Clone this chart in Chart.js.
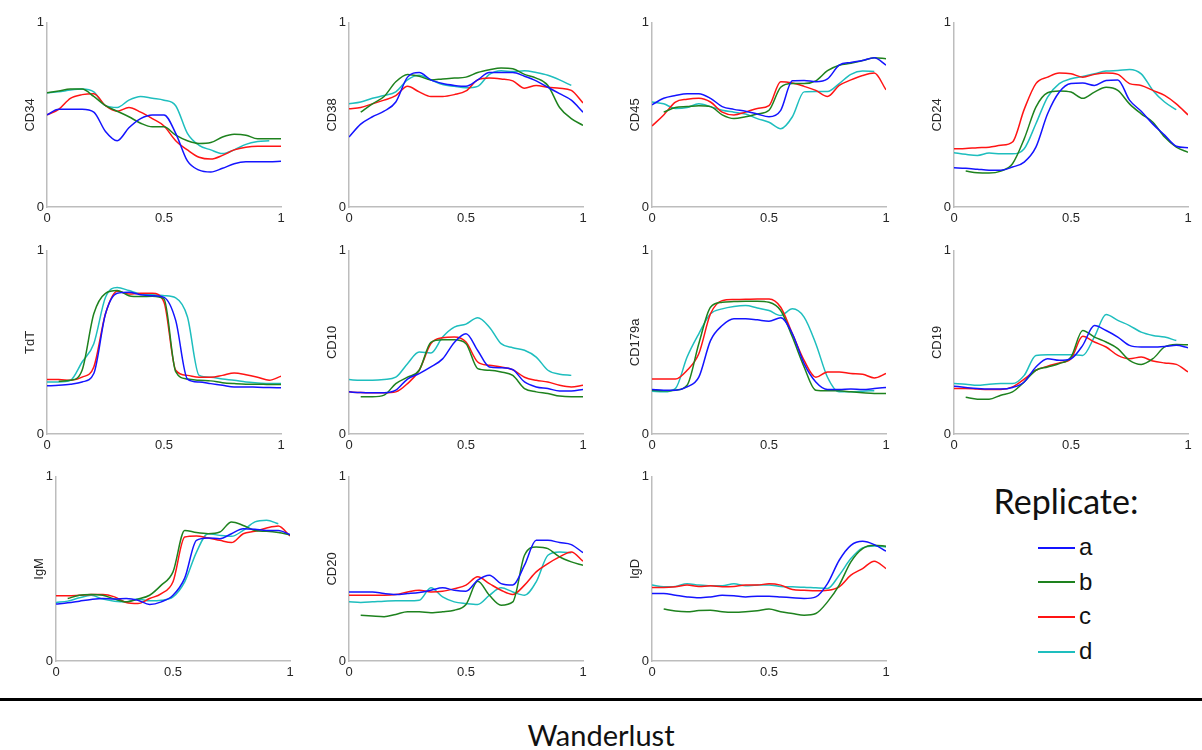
<!DOCTYPE html>
<html>
<head>
<meta charset="utf-8">
<title>Wanderlust</title>
<script src="https://cdn.jsdelivr.net/npm/chart.js@4.4.1/dist/chart.umd.min.js"></script>
<style>
    body { margin: 0; background: #fff; }
    #page { position: relative; width: 1202px; height: 750px; overflow: hidden; font-family: "Liberation Sans", Arial, sans-serif; }
    #page canvas { position: absolute; }
    .legend-title { position: absolute; left: 966px; top: 481px; width: 200px; text-align: center; font-family: Lato, "Open Sans", sans-serif; font-size: 34px; line-height: 40px; color: #111; }
    .legend-item { position: absolute; left: 1038px; height: 28px; line-height: 28px; font-size: 24px; color: #111; }
    .legend-item span { display: inline-block; width: 37px; height: 2px; vertical-align: middle; margin-right: 4px; position: relative; top: -1px; }
    #rule { position: absolute; left: 0; top: 698px; width: 1202px; height: 3px; background: #000; }
    #title { position: absolute; left: 0; top: 717px; width: 1202px; text-align: center; font-family: Lato, "Open Sans", sans-serif; font-size: 29px; line-height: 36px; color: #111; }
</style>
</head>
<body>
<div id="page">
    <div id="rule"></div>
    <div id="title">Wanderlust</div>
</div>

<script>
// pseudotime grid shared by all panels
var xGrid = [0, 0.05, 0.1, 0.15, 0.2, 0.25, 0.3, 0.35, 0.4, 0.45, 0.5, 0.55, 0.6, 0.65, 0.7, 0.75, 0.8, 0.85, 0.9, 0.95, 1];
var xTicks = [0, 0.5, 1];
var yTicks = [0, 1];

var markers = ['CD34', 'CD38', 'CD45', 'CD24', 'TdT', 'CD10', 'CD179a', 'CD19', 'IgM', 'CD20', 'IgD'];
var replicates = ['a', 'b', 'c', 'd'];
var replicateColors = ['#1414ff', '#1e821e', '#ff1414', '#1ebebe'];

// CD34
var cd34A = [0.50, 0.53, 0.53, 0.53, 0.515, 0.41, 0.36, 0.43, 0.48, 0.50, 0.50, 0.40, 0.25, 0.20, 0.19, 0.21, 0.235, 0.245, 0.245, 0.245, 0.248];
var cd34B = [0.62, 0.63, 0.64, 0.64, 0.60, 0.55, 0.52, 0.49, 0.455, 0.435, 0.435, 0.39, 0.36, 0.345, 0.35, 0.38, 0.395, 0.39, 0.37, 0.37, 0.37];
var cd34C = [0.50, 0.53, 0.59, 0.61, 0.615, 0.55, 0.52, 0.54, 0.515, 0.48, 0.44, 0.36, 0.31, 0.27, 0.26, 0.28, 0.31, 0.325, 0.33, 0.33, 0.33];
var cd34D = [0.62, 0.625, 0.635, 0.64, 0.625, 0.55, 0.54, 0.58, 0.60, 0.59, 0.58, 0.55, 0.40, 0.335, 0.31, 0.29, 0.31, 0.34, 0.355, 0.36, null];

// CD38
var cd38A = [0.38, 0.45, 0.49, 0.52, 0.57, 0.705, 0.73, 0.69, 0.67, 0.66, 0.655, 0.69, 0.73, 0.73, 0.73, 0.71, 0.685, 0.65, 0.615, 0.58, 0.515];
var cd38B = [null, 0.515, 0.56, 0.60, 0.68, 0.72, 0.71, 0.69, 0.695, 0.70, 0.705, 0.73, 0.745, 0.755, 0.75, 0.72, 0.70, 0.66, 0.54, 0.48, 0.443];
var cd38C = [0.533, 0.54, 0.56, 0.58, 0.605, 0.655, 0.625, 0.60, 0.60, 0.61, 0.63, 0.69, 0.70, 0.695, 0.685, 0.645, 0.66, 0.65, 0.645, 0.633, 0.565];
var cd38D = [0.56, 0.57, 0.59, 0.605, 0.625, 0.69, 0.715, 0.69, 0.665, 0.655, 0.647, 0.655, 0.72, 0.74, 0.735, 0.74, 0.73, 0.715, 0.69, 0.66, null];

// CD45
var cd45A = [0.555, 0.59, 0.605, 0.615, 0.615, 0.59, 0.545, 0.53, 0.52, 0.505, 0.49, 0.525, 0.685, 0.687, 0.68, 0.695, 0.77, 0.785, 0.795, 0.81, 0.77];
var cd45B = [null, 0.515, 0.54, 0.545, 0.55, 0.545, 0.50, 0.48, 0.49, 0.505, 0.525, 0.65, 0.67, 0.67, 0.685, 0.74, 0.77, 0.78, 0.795, 0.81, 0.805];
var cd45C = [0.44, 0.50, 0.57, 0.585, 0.59, 0.57, 0.515, 0.50, 0.515, 0.535, 0.55, 0.68, 0.673, 0.655, 0.633, 0.60, 0.66, 0.69, 0.714, 0.727, 0.636];
var cd45D = [0.57, 0.56, 0.535, 0.54, 0.56, 0.545, 0.525, 0.515, 0.505, 0.48, 0.46, 0.425, 0.49, 0.625, 0.627, 0.627, 0.67, 0.72, 0.738, 0.736, null];

// CD24
var cd24A = [0.213, 0.21, 0.205, 0.20, 0.20, 0.217, 0.244, 0.325, 0.506, 0.624, 0.67, 0.673, 0.66, 0.687, 0.69, 0.58, 0.52, 0.45, 0.39, 0.33, 0.322];
var cd24B = [null, 0.195, 0.186, 0.184, 0.195, 0.235, 0.37, 0.542, 0.62, 0.63, 0.624, 0.59, 0.624, 0.65, 0.633, 0.56, 0.506, 0.46, 0.38, 0.325, 0.297];
var cd24C = [0.316, 0.318, 0.322, 0.325, 0.335, 0.353, 0.53, 0.67, 0.705, 0.727, 0.723, 0.705, 0.72, 0.727, 0.72, 0.67, 0.66, 0.633, 0.606, 0.56, 0.50];
var cd24D = [0.295, 0.286, 0.28, 0.293, 0.289, 0.289, 0.316, 0.452, 0.597, 0.67, 0.696, 0.709, 0.723, 0.738, 0.741, 0.747, 0.723, 0.633, 0.57, 0.528, null];

// TdT
var tdtA = [0.263, 0.266, 0.272, 0.284, 0.33, 0.656, 0.768, 0.774, 0.76, 0.755, 0.746, 0.62, 0.30, 0.284, 0.275, 0.266, 0.257, 0.257, 0.255, 0.254, 0.252];
var tdtB = [null, 0.288, 0.293, 0.348, 0.656, 0.768, 0.783, 0.755, 0.75, 0.752, 0.737, 0.34, 0.30, 0.293, 0.29, 0.28, 0.275, 0.272, 0.272, 0.27, 0.27];
var tdtC = [0.297, 0.297, 0.293, 0.31, 0.366, 0.656, 0.779, 0.764, 0.768, 0.768, 0.72, 0.348, 0.32, 0.31, 0.31, 0.32, 0.333, 0.324, 0.31, 0.293, 0.315];
var tdtD = [0.284, 0.284, 0.293, 0.393, 0.493, 0.746, 0.80, 0.783, 0.764, 0.76, 0.755, 0.743, 0.64, 0.32, 0.31, 0.30, 0.293, 0.284, 0.279, 0.275, 0.275];

// CD10
var cd10A = [0.23, 0.226, 0.225, 0.225, 0.239, 0.30, 0.33, 0.366, 0.41, 0.50, 0.547, 0.456, 0.366, 0.362, 0.351, 0.284, 0.257, 0.248, 0.235, 0.235, 0.243];
var cd10B = [null, 0.203, 0.203, 0.212, 0.275, 0.31, 0.348, 0.50, 0.514, 0.514, 0.493, 0.357, 0.348, 0.339, 0.32, 0.248, 0.23, 0.221, 0.207, 0.203, 0.203];
var cd10C = [0.23, 0.226, 0.225, 0.225, 0.23, 0.275, 0.348, 0.493, 0.525, 0.529, 0.502, 0.393, 0.375, 0.366, 0.351, 0.31, 0.293, 0.284, 0.266, 0.257, 0.266];
var cd10D = [0.297, 0.293, 0.293, 0.297, 0.31, 0.384, 0.447, 0.442, 0.529, 0.583, 0.60, 0.634, 0.583, 0.493, 0.471, 0.457, 0.42, 0.348, 0.326, 0.32, null];

// CD179a
var cd179aA = [0.243, 0.239, 0.239, 0.257, 0.31, 0.51, 0.592, 0.629, 0.629, 0.623, 0.616, 0.634, 0.547, 0.384, 0.284, 0.243, 0.243, 0.245, 0.243, 0.248, 0.254];
var cd179aB = [0.239, 0.236, 0.239, 0.266, 0.493, 0.692, 0.719, 0.723, 0.725, 0.725, 0.719, 0.674, 0.529, 0.366, 0.239, 0.236, 0.236, 0.23, 0.225, 0.221, 0.221];
var cd179aC = [0.30, 0.30, 0.30, 0.348, 0.438, 0.656, 0.728, 0.734, 0.735, 0.737, 0.737, 0.692, 0.547, 0.402, 0.31, 0.339, 0.339, 0.33, 0.326, 0.306, 0.33];
var cd179aD = [0.234, 0.23, 0.248, 0.42, 0.547, 0.656, 0.683, 0.696, 0.701, 0.688, 0.674, 0.647, 0.683, 0.638, 0.493, 0.31, 0.23, 0.23, 0.234, 0.236, null];

// CD19
var cd19A = [0.261, 0.254, 0.248, 0.245, 0.245, 0.254, 0.284, 0.366, 0.411, 0.402, 0.411, 0.484, 0.592, 0.565, 0.529, 0.484, 0.475, 0.475, 0.478, 0.484, 0.471];
var cd19B = [null, 0.20, 0.19, 0.19, 0.212, 0.23, 0.284, 0.348, 0.366, 0.384, 0.42, 0.565, 0.529, 0.502, 0.466, 0.402, 0.38, 0.411, 0.475, 0.489, 0.487];
var cd19C = [0.248, 0.248, 0.245, 0.243, 0.243, 0.257, 0.30, 0.348, 0.37, 0.388, 0.411, 0.533, 0.502, 0.475, 0.429, 0.411, 0.42, 0.398, 0.388, 0.38, 0.339];
var cd19D = [0.275, 0.272, 0.266, 0.272, 0.275, 0.275, 0.32, 0.429, 0.433, 0.433, 0.433, 0.429, 0.53, 0.652, 0.62, 0.592, 0.556, 0.538, 0.529, 0.51, null];

// IgM
var igmA = [0.309, 0.316, 0.325, 0.334, 0.339, 0.336, 0.339, 0.33, 0.307, 0.321, 0.357, 0.45, 0.655, 0.668, 0.664, 0.691, 0.718, 0.715, 0.709, 0.709, 0.686];
var igmB = [null, 0.339, 0.357, 0.361, 0.357, 0.336, 0.321, 0.336, 0.357, 0.412, 0.484, 0.709, 0.697, 0.691, 0.70, 0.755, 0.736, 0.709, 0.704, 0.697, 0.686];
var igmC = [0.354, 0.354, 0.357, 0.361, 0.361, 0.348, 0.318, 0.312, 0.339, 0.366, 0.43, 0.673, 0.679, 0.668, 0.655, 0.643, 0.691, 0.704, 0.722, 0.733, 0.679];
var igmD = [0.318, 0.325, 0.343, 0.357, 0.336, 0.325, 0.321, 0.336, 0.327, 0.33, 0.348, 0.43, 0.59, 0.691, 0.682, 0.677, 0.709, 0.755, 0.764, 0.745, null];

// CD20
var cd20A = [0.375, 0.375, 0.375, 0.366, 0.361, 0.366, 0.372, 0.384, 0.397, 0.384, 0.379, 0.439, 0.466, 0.42, 0.412, 0.52, 0.655, 0.655, 0.643, 0.632, 0.588];
var cd20B = [null, 0.249, 0.244, 0.24, 0.253, 0.267, 0.267, 0.262, 0.267, 0.276, 0.307, 0.433, 0.357, 0.303, 0.321, 0.574, 0.619, 0.61, 0.565, 0.538, 0.52];
var cd20C = [0.357, 0.357, 0.357, 0.357, 0.361, 0.375, 0.384, 0.375, 0.379, 0.393, 0.412, 0.457, 0.42, 0.384, 0.361, 0.412, 0.484, 0.529, 0.565, 0.592, 0.542];
var cd20D = [0.321, 0.318, 0.321, 0.325, 0.327, 0.327, 0.33, 0.397, 0.348, 0.321, 0.312, 0.307, 0.357, 0.397, 0.375, 0.357, 0.43, 0.574, 0.592, 0.588, null];

// IgD
var igdA = [0.366, 0.366, 0.357, 0.348, 0.343, 0.348, 0.357, 0.354, 0.348, 0.352, 0.352, 0.348, 0.343, 0.339, 0.348, 0.42, 0.547, 0.628, 0.65, 0.632, 0.596];
var igdB = [null, 0.282, 0.271, 0.267, 0.274, 0.276, 0.267, 0.264, 0.267, 0.273, 0.282, 0.267, 0.258, 0.249, 0.258, 0.321, 0.412, 0.538, 0.61, 0.628, 0.623];
var igdC = [0.399, 0.399, 0.403, 0.412, 0.404, 0.408, 0.403, 0.405, 0.412, 0.412, 0.42, 0.412, 0.388, 0.384, 0.381, 0.384, 0.403, 0.466, 0.502, 0.542, 0.502];
var igdD = [0.412, 0.403, 0.405, 0.42, 0.412, 0.408, 0.408, 0.42, 0.408, 0.412, 0.412, 0.405, 0.403, 0.401, 0.397, 0.394, 0.466, 0.556, 0.614, 0.625, 0.619];

var panelSeries = [
    [cd34A, cd34B, cd34C, cd34D],
    [cd38A, cd38B, cd38C, cd38D],
    [cd45A, cd45B, cd45C, cd45D],
    [cd24A, cd24B, cd24C, cd24D],
    [tdtA, tdtB, tdtC, tdtD],
    [cd10A, cd10B, cd10C, cd10D],
    [cd179aA, cd179aB, cd179aC, cd179aD],
    [cd19A, cd19B, cd19C, cd19D],
    [igmA, igmB, igmC, igmD],
    [cd20A, cd20B, cd20C, cd20D],
    [igdA, igdB, igdC, igdD]
];

// plot area of every panel: left edge of x axis, top of y axis, plot height
var panelBoxes = [
    [47, 22, 185], [349, 22, 185], [652, 22, 185], [954, 22, 185],
    [47, 250, 184], [349, 250, 184], [652, 250, 184], [954, 250, 184],
    [56, 476, 185], [349, 476, 185], [652, 476, 185]
];
var PLOT_W = 234;
var AXIS_L = 25;
var AXIS_B = 22;
var PAD_T = 10;
var PAD_R = 10;
var AXIS_COLOR = '#bdbdbd';
var TEXT_COLOR = '#262626';

for (var i = 0; i < markers.length; i++) {
    drawPanel(i);
}
drawLegend();

function drawPanel(index)
{
    var box = panelBoxes[index];
    var canvas = document.createElement('canvas');
    var w = AXIS_L + PLOT_W + PAD_R;
    var h = PAD_T + box[2] + AXIS_B;

    canvas.width = w;
    canvas.height = h;
    canvas.style.width = w + 'px';
    canvas.style.height = h + 'px';
    canvas.style.left = (box[0] - AXIS_L) + 'px';
    canvas.style.top = (box[1] - PAD_T) + 'px';
    document.getElementById('page').appendChild(canvas);

    var datasets = [];
    for (var s = 0; s < replicates.length; s++) {
        var values = panelSeries[index][s];
        var points = [];
        for (var k = 0; k < xGrid.length; k++) {
            if (values[k] !== null) {
                points.push({ x: xGrid[k], y: values[k] });
            }
        }
        datasets.push({
            label: replicates[s],
            data: points,
            borderColor: replicateColors[s],
            borderWidth: 1.5,
            pointRadius: 0,
            cubicInterpolationMode: 'monotone',
            fill: false
        });
    }

    var tickFont = { family: '"Liberation Sans", Arial, sans-serif', size: 13 };

    new Chart(canvas, {
        type: 'line',
        data: { datasets: datasets },
        options: {
            responsive: false,
            animation: false,
            events: [],
            layout: { padding: { top: PAD_T, right: PAD_R, left: 0, bottom: 0 } },
            plugins: { legend: { display: false }, tooltip: { enabled: false } },
            scales: {
                x: {
                    type: 'linear',
                    min: 0,
                    max: 1,
                    grid: { display: false, drawTicks: false },
                    border: { display: true, color: AXIS_COLOR, width: 1.5 },
                    ticks: {
                        padding: 4,
                        color: TEXT_COLOR,
                        font: tickFont,
                        maxRotation: 0,
                        callback: function(v) { return String(v); }
                    },
                    afterBuildTicks: function(scale) {
                        scale.ticks = xTicks.map(function(v) { return { value: v }; });
                    },
                    afterFit: function(scale) { scale.height = AXIS_B; }
                },
                y: {
                    type: 'linear',
                    min: 0,
                    max: 1,
                    grid: { display: false, drawTicks: false },
                    border: { display: true, color: AXIS_COLOR, width: 1.5 },
                    ticks: {
                        padding: 3,
                        color: TEXT_COLOR,
                        font: tickFont,
                        callback: function(v) { return String(v); }
                    },
                    afterBuildTicks: function(scale) {
                        scale.ticks = yTicks.map(function(v) { return { value: v }; });
                    },
                    title: {
                        display: true,
                        text: markers[index],
                        color: TEXT_COLOR,
                        font: tickFont,
                        padding: { top: 1, bottom: 0 }
                    },
                    afterFit: function(scale) { scale.width = AXIS_L; }
                }
            }
        }
    });
}

function drawLegend()
{
    var page = document.getElementById('page');
    var title = document.createElement('div');
    title.className = 'legend-title';
    title.textContent = 'Replicate:';
    page.appendChild(title);

    // one row per replicate
    for (var i = 0; i < replicates.length; i++) {
        var item = document.createElement('div');
        item.className = 'legend-item';
        item.style.top = (533 + i * 34.7) + 'px';
        var swatch = document.createElement('span');
        swatch.style.background = replicateColors[i];
        item.appendChild(swatch);
        item.appendChild(document.createTextNode(replicates[i]));
        page.appendChild(item);
    }
}
</script>
</body>
</html>
